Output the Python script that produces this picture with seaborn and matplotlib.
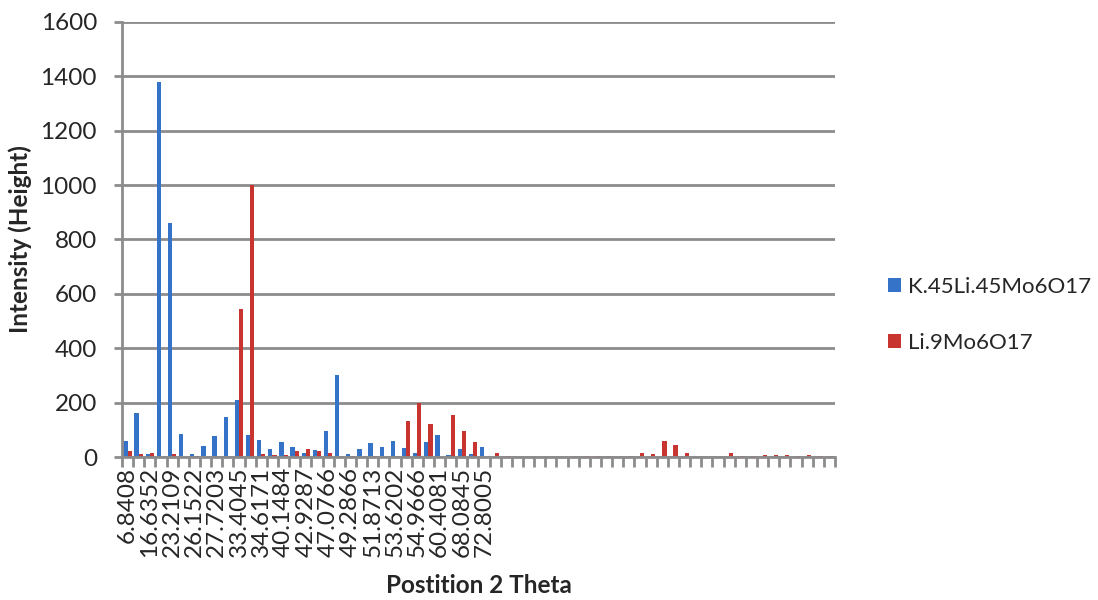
import matplotlib
matplotlib.use("Agg")
import matplotlib.pyplot as plt
import seaborn as sns
import pandas as pd
import numpy as np
from matplotlib.patches import Patch

# ---- data ----
tick_labels = ["6.8408", "16.6352", "23.2109", "26.1522", "27.7203", "33.4045",
               "34.6171", "40.1484", "42.9287", "47.0766", "49.2866", "51.8713",
               "53.6202", "54.9666", "60.4081", "68.0845", "72.8005"]

series_names = ["K.45Li.45Mo6O17", "Li.9Mo6O17"]

k_values = [60, 162, 11, 1380, 860, 86, 11, 41, 79, 146,
            210, 82, 64, 30, 56, 37, 15, 26, 94, 300,
            11, 30, 52, 37, 60, 34, 15, 56, 82, 7,
            30, 11, 36, 0, 0, 0, 0, 0, 0, 0,
            0, 0, 0, 0, 0, 0, 0, 0, 0, 0,
            0, 0, 0, 0, 0, 0, 0, 0, 0, 0,
            0, 0, 0, 0]

li_values = [22, 11, 15, 0, 11, 0, 4, 0, 0, 0,
             545, 1000, 11, 7, 7, 22, 30, 22, 15, 0,
             4, 0, 4, 0, 4, 131, 199, 120, 0, 154,
             94, 56, 0, 14, 3, 0, 0, 0, 0, 0,
             3, 3, 3, 3, 0, 3, 14, 10, 59, 44,
             14, 0, 0, 0, 14, 3, 3, 6, 6, 6,
             3, 6, 3, 3]

colors = ["#3573C9", "#C8342F"]

n = len(k_values)
cats = list(range(n))
df = pd.DataFrame({
    "cat": cats * 2,
    "value": k_values + li_values,
    "series": [series_names[0]] * n + [series_names[1]] * n,
})

sns.set_theme(style="white")
plt.rcParams["font.family"] = ["Lato", "DejaVu Sans"]

FS = 17.5

fig = plt.figure(figsize=(10.98, 6.0), dpi=100)
ax = fig.add_axes([122 / 1098, 1 - 457 / 600, (835 - 122) / 1098, (457 - 22) / 600])

sns.barplot(data=df, x="cat", y="value", hue="series", order=cats,
            hue_order=series_names, palette=colors, width=0.76,
            saturation=1, linewidth=0, edgecolor="none", ax=ax, legend=False)

ax.set_xlim(-0.5, n - 0.5)
ax.set_ylim(0, 1600)
ax.set_yticks(np.arange(0, 1601, 200))
ax.tick_params(axis="y", labelsize=FS, length=6, width=2, color="#8c8c8c",
               direction="out", left=True, pad=12)
ax.yaxis.grid(True, color="#8c8c8c", linewidth=2)
ax.set_axisbelow(True)

# category labels at every other category
lab_pos = [2 * i for i in range(len(tick_labels))]
ax.set_xticks(lab_pos)
ax.set_xticklabels(tick_labels, rotation=90, fontsize=FS)
ax.tick_params(axis="x", length=0, pad=7)
ax.set_xticks(np.arange(-0.5, n, 1.0), minor=True)
ax.tick_params(axis="x", which="minor", length=7, width=2, color="#8c8c8c",
               direction="out", bottom=True)

for s in ["top", "right"]:
    ax.spines[s].set_visible(False)
ax.spines["left"].set_color("#8c8c8c")
ax.spines["left"].set_linewidth(2)
ax.spines["bottom"].set_color("#8c8c8c")
ax.spines["bottom"].set_linewidth(2)

ax.set_xlabel("Postition 2 Theta", fontsize=FS, fontweight="bold", labelpad=12)
ax.set_ylabel("Intensity (Height)", fontsize=FS, fontweight="bold", labelpad=6)

handles = [Patch(facecolor=c, edgecolor="none") for c in colors]
fig.legend(handles, series_names, loc="center left",
           bbox_to_anchor=(877 / 1098, 1 - 315 / 600), frameon=False,
           fontsize=16, handlelength=0.6, handleheight=0.6,
           handletextpad=0.3, labelspacing=1.6, borderpad=0)

fig.savefig("out.png", dpi=100)
